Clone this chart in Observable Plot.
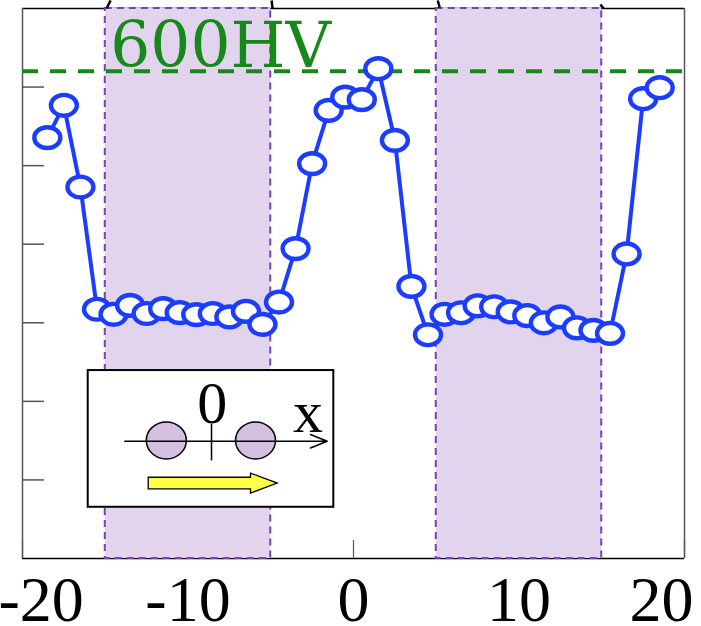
<!DOCTYPE html>
<html><head><meta charset="utf-8">
<script src="https://cdn.jsdelivr.net/npm/d3@7"></script>
<script src="https://cdn.jsdelivr.net/npm/@observablehq/plot@0.6"></script>
<style>html,body{margin:0;padding:0;background:#fff;} #chart svg{display:block;}</style>
</head><body><div id="chart"></div>
<script>
// measurement positions (mm) and hardness (HV)
const positions = [-18.5, -17.5, -16.5, -15.5, -14.5, -13.5, -12.5, -11.5, -10.5, -9.5, -8.5, -7.5, -6.5, -5.5, -4.5, -3.5, -2.5, -1.5, -0.5, 0.5, 1.5, 2.5, 3.5, 4.5, 5.5, 6.5, 7.5, 8.5, 9.5, 10.5, 11.5, 12.5, 13.5, 14.5, 15.5, 16.5, 17.5, 18.5];
const hardness = [557.8, 578.4, 526.4, 448.6, 445.4, 451.1, 445.9, 449.0, 446.5, 445.2, 445.9, 443.7, 447.3, 439.0, 453.2, 487.2, 541.3, 575.2, 583.6, 582.0, 601.7, 556.1, 463.2, 432.4, 445.4, 446.4, 450.8, 450.2, 446.9, 444.6, 440.0, 443.7, 436.8, 435.2, 433.3, 483.8, 582.6, 589.6];
// shaded zones
const zoneStart = [-15, 5];
const zoneEnd = [-5, 15];
// reference level
const refLevel = [600];
const refLabel = ["600HV"];
// ticks
const xTicks = [-20, -10, 0, 10, 20];
const xTickLabels = ["-20", "-10", "0", "10", "20"];
const yTicks = [340, 390, 440, 490, 540, 590];
const xDomain = [-20, 20];
const yDomain = [290, 640];
// inset schematic (in chart units)
const insetBox = [{x1: -16.03, x2: -1.19, y1: 322.6, y2: 409.6}];
const insetAxis = [{x1: -13.82, x2: -1.59, y1: 364.6, y2: 364.6}];
const insetOrigin = [{x1: -8.58, x2: -8.58, y1: 352.4, y2: 375.7}];
const insetBallsX = [-11.31, -5.92];
const insetBallsY = [365.1, 365.1];
const insetLabels = [{x: -8.54, y: 376.1, t: "0"}, {x: -2.75, y: 370.4, t: "x"}];
const insetArrow = [{x: -8.52, y: 338.0}];
// fragments at the top edge
const topMarks = [
  {x1: -14.68, y1: 645.1, x2: -14.92, y2: 640.0},
  {x1: -4.95, y1: 645.1, x2: -4.89, y2: 640.0},
  {x1: 5.09, y1: 645.1, x2: 5.21, y2: 640.6},
  {x1: 14.92, y1: 642.5, x2: 15.11, y2: 640.0}
];

const data = positions.map((x, i) => ({x, y: hardness[i]}));
const zones = zoneStart.map((s, i) => ({s, e: zoneEnd[i]}));
const balls = insetBallsX.map((x, i) => ({x, y: insetBallsY[i]}));
const tickRows = xTicks.map((v, i) => ({v, label: xTickLabels[i]}));

function ellipse(rx, ry) {
  const k = 0.5523;
  return {draw(c) {
    c.moveTo(rx, 0);
    c.bezierCurveTo(rx, ry * k, rx * k, ry, 0, ry);
    c.bezierCurveTo(-rx * k, ry, -rx, ry * k, -rx, 0);
    c.bezierCurveTo(-rx, -ry * k, -rx * k, -ry, 0, -ry);
    c.bezierCurveTo(rx * k, -ry, rx, -ry * k, rx, 0);
    c.closePath();
  }};
}
const blockArrow = {draw(c) {
  c.moveTo(-64.3, -5.8); c.lineTo(38, -5.8); c.lineTo(38, -10); c.lineTo(64.7, 0);
  c.lineTo(38, 10); c.lineTo(38, 5.8); c.lineTo(-64.3, 5.8); c.closePath();
}};

const blue = "#1c3cff";
const green = "#17891a";
const serif = "Liberation Serif, Times New Roman, serif";

const chart = Plot.plot({
  width: 701,
  height: 626,
  marginLeft: 22,
  marginRight: 17,
  marginTop: 8,
  marginBottom: 68,
  x: {domain: xDomain, axis: null},
  y: {domain: yDomain, axis: null},
  style: {background: "white"},
  marks: [
    Plot.ruleY([yDomain[0]], {stroke: "black", strokeWidth: 1.5}),
    Plot.ruleY([yDomain[1]], {stroke: "black", strokeWidth: 1.5}),
    Plot.ruleX([xDomain[0]], {stroke: "#555", strokeWidth: 1.5}),
    Plot.ruleX([xDomain[1]], {stroke: "#555", strokeWidth: 1.5}),
    Plot.axisY(yTicks, {anchor: "left", tickSize: -22, tickFormat: () => "", stroke: "#555", strokeWidth: 1.5, label: null}),
    Plot.axisX(xTicks, {anchor: "bottom", tickSize: -18, tickFormat: () => "", stroke: "#555", strokeWidth: 1.2, label: null}),
    Plot.rect(zones, {x1: "s", x2: "e", fill: "#e1d4ec", stroke: "#7b3fb8", strokeWidth: 2, strokeDasharray: "7,5"}),
    Plot.link(topMarks, {x1: "x1", y1: "y1", x2: "x2", y2: "y2", stroke: "black", strokeWidth: 2.5}),
    Plot.ruleY(refLevel, {stroke: green, strokeWidth: 4, strokeDasharray: "16,12"}),
    Plot.text(refLabel, {x: () => -14.7, y: () => 602.7, text: d => d, textAnchor: "start", lineAnchor: "bottom", fontFamily: "DejaVu Serif", fontSize: 63, fill: green}),
    // inset
    Plot.rect(insetBox, {x1: "x1", x2: "x2", y1: "y1", y2: "y2", fill: "white", stroke: "black", strokeWidth: 2}),
    Plot.dot(balls, {x: "x", y: "y", symbol: ellipse(20, 18.5), r: 20, fill: "#d4bfe0", stroke: "black", strokeWidth: 1.5}),
    Plot.arrow(insetAxis, {x1: "x1", y1: "y1", x2: "x2", y2: "y2", stroke: "black", strokeWidth: 1.5, headLength: 18, headAngle: 44}),
    Plot.link(insetOrigin, {x1: "x1", y1: "y1", x2: "x2", y2: "y2", stroke: "black", strokeWidth: 1.5}),
    Plot.text(insetLabels, {x: "x", y: "y", text: "t", lineAnchor: "bottom", fontFamily: serif, fontSize: 60, fill: "black"}),
    Plot.dot(insetArrow, {x: "x", y: "y", symbol: blockArrow, r: 30, fill: "#ffff45", stroke: "black", strokeWidth: 1.3}),
    // data
    Plot.line(data, {x: "x", y: "y", stroke: blue, strokeWidth: 4}),
    Plot.dot(data, {x: "x", y: "y", symbol: ellipse(13, 10.4), r: 13, fill: "white", stroke: blue, strokeWidth: 4.4}),
    // tick labels
    Plot.text(tickRows.slice(1, 4), {x: "v", text: "label", frameAnchor: "bottom", dy: 62, lineAnchor: "bottom", fontFamily: serif, fontSize: 64, fill: "black"}),
    Plot.text(tickRows.slice(0, 1), {x: "v", text: "label", frameAnchor: "bottom", dy: 62, dx: -24, textAnchor: "start", lineAnchor: "bottom", fontFamily: serif, fontSize: 64, fill: "black"}),
    Plot.text(tickRows.slice(4), {x: "v", text: "label", frameAnchor: "bottom", dy: 62, dx: 9, textAnchor: "end", lineAnchor: "bottom", fontFamily: serif, fontSize: 64, fill: "black"})
  ]
});
document.getElementById("chart").appendChild(chart);
</script>
</body></html>
